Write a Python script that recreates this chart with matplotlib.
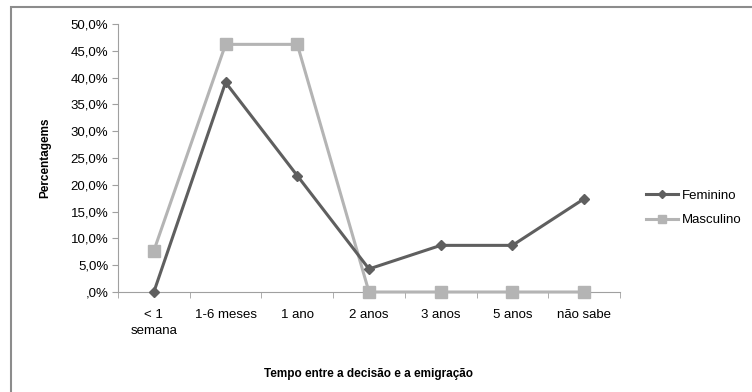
import numpy as np
import matplotlib
matplotlib.use('Agg')
import matplotlib.pyplot as plt
import matplotlib.patches as mpatches
from matplotlib.ticker import FixedLocator, FuncFormatter

plt.rcParams['font.family'] = ['Liberation Sans', 'DejaVu Sans']

categorias = ['< 1\nsemana', '1-6 meses', '1 ano', '2 anos', '3 anos', '5 anos', 'não sabe']
feminino = [0.0, 39.1, 21.7, 4.3, 8.7, 8.7, 17.4]
masculino = [7.7, 46.2, 46.2, 0.0, 0.0, 0.0, 0.0]

W, H = 752, 392
fig = plt.figure(figsize=(W/100, H/100), dpi=100)

# outer chart border (top and left visible, rest runs off the picture)
fig.patches.append(mpatches.Rectangle((11/W, -0.1), 1.2, (H-7)/H + 0.1,
                                      transform=fig.transFigure, fill=False,
                                      edgecolor='#8c8c8c', linewidth=1.5))

ax = fig.add_axes([118/W, 1-292/H, (620-118)/W, (292-24)/H])

x = np.arange(len(categorias))
ax.plot(x, masculino, color='#b4b4b4', linewidth=2.2, marker='s', markersize=8,
        label='Masculino', zorder=3, clip_on=False)
ax.plot(x, feminino, color='#5f5f5f', linewidth=2.2, marker='D', markersize=5.5,
        label='Feminino', zorder=4, clip_on=False)

ax.set_xlim(-0.5, len(categorias) - 0.5)
ax.set_ylim(0, 50)
ax.set_yticks(np.arange(0, 51, 5))
ax.yaxis.set_major_formatter(FuncFormatter(lambda v, p: ',0%' if v == 0 else ('%.1f%%' % v).replace('.', ',')))
ax.set_xticks(x)
ax.set_xticklabels(categorias, linespacing=1.5)
ax.xaxis.set_minor_locator(FixedLocator(np.arange(-0.5, len(categorias), 1.0)))
ax.tick_params(axis='x', which='major', length=0, pad=12, labelsize=9.5)
ax.tick_params(axis='x', which='minor', length=4, color='#a0a0a0', direction='out')
ax.tick_params(axis='y', length=4, color='#a0a0a0', direction='out', labelsize=9.5, pad=3)

for s in ['top', 'right']:
    ax.spines[s].set_visible(False)
ax.spines['left'].set_color('#a0a0a0')
ax.spines['bottom'].set_color('#a0a0a0')

ax.set_ylabel('Percentagems', fontsize=8.5, fontweight='bold', labelpad=14)
ax.set_xlabel('Tempo entre a decisão e a emigração', fontsize=8.5, fontweight='bold', labelpad=22)

h, l = ax.get_legend_handles_labels()
fig.legend(h[::-1], l[::-1], loc='center left', bbox_to_anchor=(634/W, 1-208/H),
           frameon=False, fontsize=9.5, handlelength=2.4, labelspacing=0.9,
           handletextpad=0.3, markerscale=0.7)

fig.savefig('out.png', dpi=100)
